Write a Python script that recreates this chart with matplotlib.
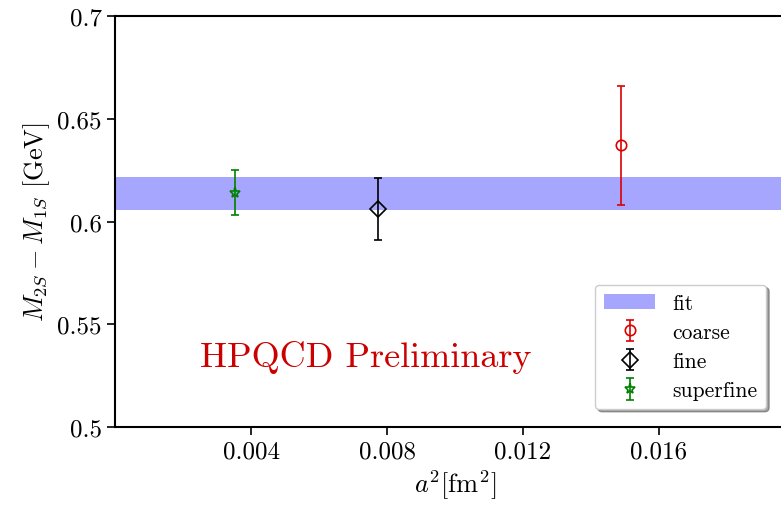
import matplotlib
matplotlib.use('Agg')
import matplotlib.pyplot as plt
from matplotlib.ticker import FuncFormatter

plt.rcParams['font.family'] = 'serif'
plt.rcParams['font.serif'] = ['cmr10']
plt.rcParams['mathtext.fontset'] = 'cm'
plt.rcParams['axes.formatter.use_mathtext'] = True

# a^2 in fm^2, splitting in GeV
labels = ['coarse', 'fine', 'superfine']
a2 = [0.01488, 0.00774, 0.00353]
dm = [0.637, 0.606, 0.614]
dm_err = [0.029, 0.015, 0.011]
colors = ['#dd0000', 'black', 'green']
markers = ['o', 'D', '*']
sizes = [7.5, 8.5, 8]
fit_lo, fit_hi = 0.6056, 0.6217

fig = plt.figure(figsize=(7.81, 5.10), dpi=100)
ax = fig.add_axes([115/781, 82/510, 680/781, 411/510])

ax.axhspan(fit_lo, fit_hi, color='blue', alpha=0.35, lw=0, label='fit')
for x, y, e, c, m, s, l in zip(a2, dm, dm_err, colors, markers, sizes, labels):
    ax.errorbar(x, y, yerr=e, fmt=m, color=c, mfc='none', ms=s,
                capsize=3, elinewidth=1.2, mew=1.2, label=l)

ax.text(0.0025, 0.5297, 'HPQCD Preliminary', color='#cc0000', fontsize=26)

ax.set_xlim(0, 0.02)
ax.set_ylim(0.5, 0.7)
ax.set_xticks([0.004, 0.008, 0.012, 0.016])
ax.set_yticks([0.5, 0.55, 0.6, 0.65, 0.7])
fmt = FuncFormatter(lambda v, p: '{:g}'.format(round(v, 3)))
ax.yaxis.set_major_formatter(fmt)
ax.xaxis.set_major_formatter(fmt)
ax.tick_params(labelsize=18, width=1.2, length=6)
for sp in ax.spines.values():
    sp.set_linewidth(1.5)

ax.set_xlabel(r'$a^2[\mathrm{fm}^2]$', fontsize=19)
ax.set_ylabel(r'$M_{2S} - M_{1S}$ [GeV]', fontsize=19)

ax.legend(loc='lower right', bbox_to_anchor=(0.995, 0.175), bbox_transform=fig.transFigure,
          fontsize=15.5, shadow=True, fancybox=True, framealpha=1, edgecolor='0.8',
          handlelength=2.4, borderpad=0.4, labelspacing=0.45)

fig.savefig('out.png', dpi=100)
